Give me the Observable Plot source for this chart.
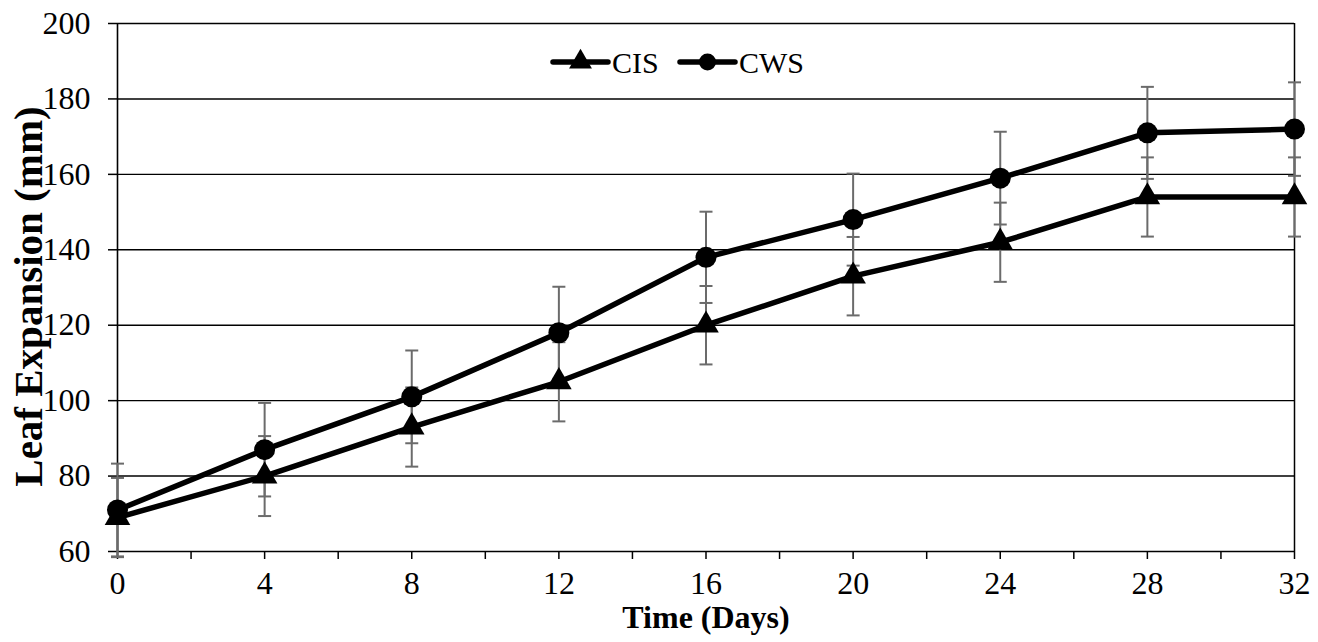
<!DOCTYPE html>
<html>
<head>
<meta charset="utf-8">
<script src="https://cdn.jsdelivr.net/npm/d3@7"></script>
<script src="https://cdn.jsdelivr.net/npm/@observablehq/plot@0.6"></script>
<style>
  html, body { margin: 0; padding: 0; background: #fff; }
  #wrap { position: relative; width: 1318px; height: 642px; }
  #legend { position: absolute; left: 0; top: 0; pointer-events: none; }
  #legend text { font-family: "Liberation Serif", "Times New Roman", serif; font-size: 30px; }
</style>
</head>
<body>
<div id="wrap"></div>
<script>
// ---- data ----
const days = [0, 4, 8, 12, 16, 20, 24, 28, 32];
const cisValues = [69, 80, 93, 105, 120, 133, 142, 154, 154];
const cwsValues = [71, 87, 101, 118, 138, 148, 159, 171, 172];
const cisErrors = [10.5, 10.6, 10.5, 10.5, 10.4, 10.4, 10.5, 10.5, 10.5];
const cwsErrors = [12.3, 12.4, 12.3, 12.2, 12.1, 12.2, 12.3, 12.2, 12.4];
const seriesNames = ["CIS", "CWS"];
const yTicks = [60, 80, 100, 120, 140, 160, 180, 200];
const xTicks = [0, 2, 4, 6, 8, 10, 12, 14, 16, 18, 20, 22, 24, 26, 28, 30, 32];
const xLabelTicks = [0, 4, 8, 12, 16, 20, 24, 28, 32];
const xTitle = "Time (Days)";
const yTitle = "Leaf Expansion (mm)";

// ---- build table ----
const rows = [];
days.forEach((d, i) => {
  rows.push({series: "CIS", day: d, value: cisValues[i], err: cisErrors[i]});
  rows.push({series: "CWS", day: d, value: cwsValues[i], err: cwsErrors[i]});
});
const caps = rows.flatMap(r => [{day: r.day, y: r.value - r.err}, {day: r.day, y: r.value + r.err}]);

const capSymbol = {
  draw(ctx, size) {
    const r = Math.sqrt(size / Math.PI);
    ctx.moveTo(-r, 0);
    ctx.lineTo(r, 0);
  }
};

const font = "'Liberation Serif', 'Times New Roman', serif";
const errColor = "#6b6b6b";

const chart = Plot.plot({
  width: 1318,
  height: 642,
  marginLeft: 117,
  marginRight: 24,
  marginTop: 23,
  marginBottom: 91,
  style: {fontFamily: font, fontSize: "32px", color: "black", background: "white"},
  x: {domain: [0, 32]},
  y: {domain: [60, 200]},
  marks: [
    Plot.gridY(yTicks.filter(v => v > 60), {stroke: "black", strokeOpacity: 1, strokeWidth: 1.4}),
    Plot.ruleX([32], {stroke: "black", strokeWidth: 1.5}),
    Plot.axisY({ticks: yTicks, tickSize: 9, tickPadding: 18, label: null, fontSize: 32, stroke: "black", strokeWidth: 1.5}),
    Plot.axisX({ticks: xTicks, tickSize: 8, tickPadding: 12, label: null, fontSize: 32,
      tickFormat: d => xLabelTicks.includes(d) ? String(d) : "", stroke: "black", strokeWidth: 1.5}),
    Plot.ruleY([60], {stroke: "black", strokeWidth: 1.6}),
    Plot.ruleX([0], {stroke: "black", strokeWidth: 1.6}),
    // error bars
    Plot.ruleX(rows, {x: "day", y1: d => d.value - d.err, y2: d => d.value + d.err, stroke: errColor, strokeWidth: 2}),
    Plot.dot(caps, {x: "day", y: "y", symbol: capSymbol, r: 6.5, stroke: errColor, strokeWidth: 2, fill: "none"}),
    // lines
    Plot.line(rows, {x: "day", y: "value", z: "series", stroke: "black", strokeWidth: 5.5, curve: "linear"}),
    Plot.dot(rows.filter(r => r.series === "CWS"), {x: "day", y: "value", symbol: "circle", r: 10.5, fill: "black", stroke: "none"}),
    Plot.dot(rows.filter(r => r.series === "CIS"), {x: "day", y: "value", symbol: "triangle", r: 9.5, fill: "black", stroke: "none"}),
    // titles
    Plot.text([xTitle], {frameAnchor: "bottom", dy: 76, fontWeight: "bold", fontSize: 32, fill: "black"}),
    Plot.text([yTitle], {frameAnchor: "left", dx: -89, dy: 9, rotate: -90, textAnchor: "middle", fontWeight: "bold", fontSize: 41, fill: "black"})
  ]
});

const wrap = document.getElementById("wrap");
wrap.appendChild(chart);

// ---- legend overlay ----
const ns = "http://www.w3.org/2000/svg";
const leg = document.createElementNS(ns, "svg");
leg.setAttribute("id", "legend");
leg.setAttribute("width", 1318);
leg.setAttribute("height", 642);
const legendItems = [
  {name: seriesNames[0], x0: 553, marker: "triangle"},
  {name: seriesNames[1], x0: 680, marker: "circle"}
];
const ly = 62;
legendItems.forEach(it => {
  const line = document.createElementNS(ns, "line");
  line.setAttribute("x1", it.x0); line.setAttribute("x2", it.x0 + 55);
  line.setAttribute("y1", ly); line.setAttribute("y2", ly);
  line.setAttribute("stroke", "black"); line.setAttribute("stroke-width", 5.5);
  line.setAttribute("stroke-linecap", "round");
  leg.appendChild(line);
  const path = document.createElementNS(ns, "path");
  const sym = it.marker === "circle" ? d3.symbolCircle : d3.symbolTriangle;
  const size = Math.PI * 8.5 * 8.5;
  path.setAttribute("d", d3.symbol(sym, size)());
  path.setAttribute("transform", `translate(${it.x0 + 27.5},${ly})`);
  path.setAttribute("fill", "black");
  leg.appendChild(path);
  const t = document.createElementNS(ns, "text");
  t.setAttribute("x", it.x0 + 59);
  t.setAttribute("y", ly);
  t.setAttribute("dy", "0.35em");
  t.textContent = it.name;
  leg.appendChild(t);
});
wrap.appendChild(leg);
</script>
</body>
</html>
